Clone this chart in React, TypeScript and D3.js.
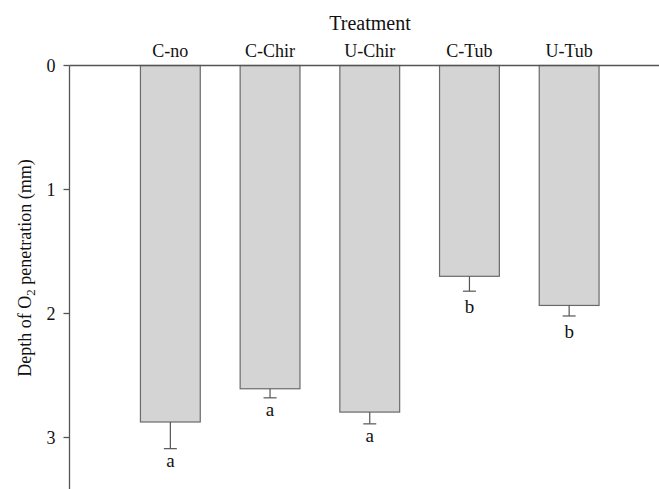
import React from "react";
import * as d3 from "d3";

const categories = ["C-no", "C-Chir", "U-Chir", "C-Tub", "U-Tub"];
const depths = [2.875, 2.607, 2.795, 1.70, 1.935];
const errors = [0.215, 0.073, 0.095, 0.12, 0.085];
const letters = ["a", "a", "a", "b", "b"];
const yTicks = [0, 1, 2, 3];

const W = 659;
const H = 489;
const FONT = "'Liberation Serif', 'Times New Roman', serif";

export default function App() {
  const left = 69.5;
  const top = 65.5;
  const x = d3.scaleBand<string>().domain(categories).range([120.5, 619]).paddingInner(0.4).paddingOuter(0.2);
  const y = d3.scaleLinear().domain([0, 1]).range([top, top + 124]);
  const bw = x.bandwidth();
  const axisColor = "#555";

  return (
    <svg width={W} height={H} style={{ position: "absolute", left: 0, top: 0, background: "#fff" }} fontFamily={FONT}>
      {categories.map((c, i) => {
        const x0 = x(c)!;
        const cx = x0 + bw / 2;
        const yb = y(depths[i]);
        const ye = y(depths[i] + errors[i]);
        // text placed by the top of its glyph: letters with ascenders sit lower
        const off = /[bdfhklt]/.test(letters[i]) ? 22 : 18.5;
        return (
          <g key={c}>
            <rect x={x0} y={y(0)} width={bw} height={yb - y(0)} fill="#d4d4d4" stroke="#6a6a6a" strokeWidth={1.2} />
            <line x1={cx} x2={cx} y1={yb} y2={ye} stroke="#555" strokeWidth={1.2} />
            <line x1={cx - 6.5} x2={cx + 6.5} y1={ye} y2={ye} stroke="#555" strokeWidth={1.2} />
            <text x={cx} y={ye + off} textAnchor="middle" fontSize={19} fill="#111">{letters[i]}</text>
            <text x={cx} y={57} textAnchor="middle" fontSize={18} fill="#111">{c}</text>
          </g>
        );
      })}
      <line x1={left} x2={W} y1={y(0)} y2={y(0)} stroke={axisColor} strokeWidth={1.3} />
      <line x1={left} x2={left} y1={y(0)} y2={H} stroke={axisColor} strokeWidth={1.3} />
      {yTicks.map((t) => (
        <g key={t}>
          <line x1={left - 6} x2={left} y1={y(t)} y2={y(t)} stroke={axisColor} strokeWidth={1.3} />
          <text x={left - 14} y={y(t) + 6.5} textAnchor="end" fontSize={18} fill="#111">{t}</text>
        </g>
      ))}
      <text x={370} y={30} textAnchor="middle" fontSize={20} fill="#111">Treatment</text>
      <text transform={`translate(31, 268) rotate(-90)`} textAnchor="middle" fontSize={18} fill="#111">
        Depth of O<tspan fontSize={13} dy={4}>2</tspan><tspan dy={-4}> penetration (mm)</tspan>
      </text>
    </svg>
  );
}
